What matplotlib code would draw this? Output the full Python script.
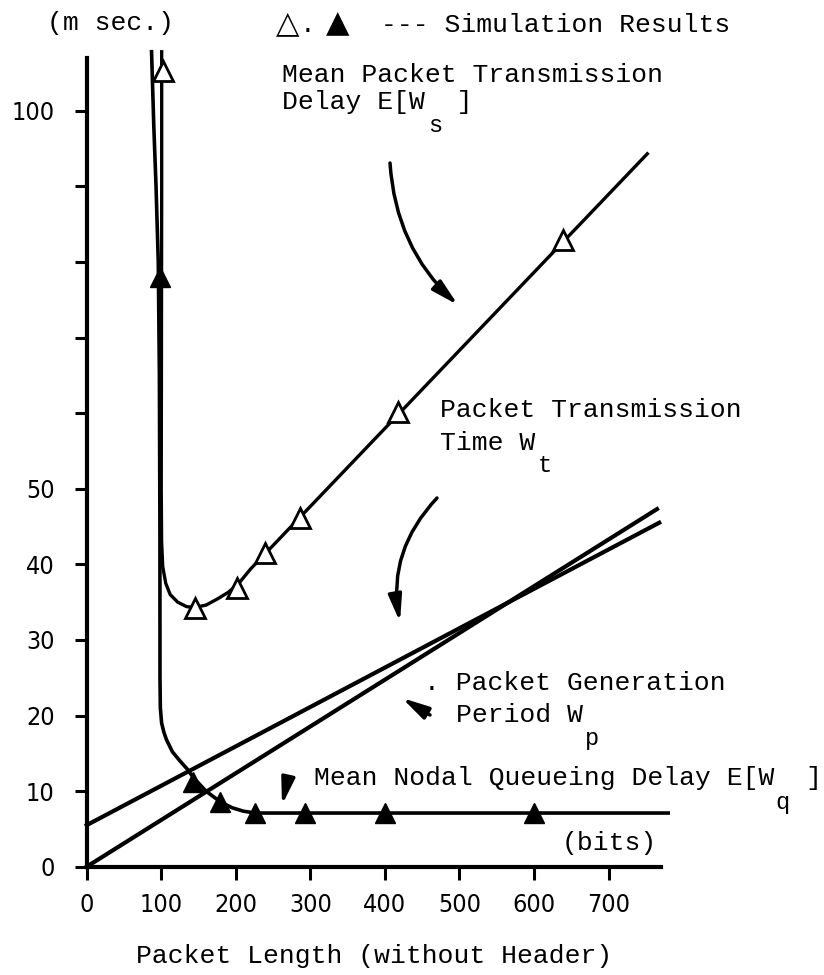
#!/usr/bin/env python3

# packet delay vs packet length, redrawn from a scanned figure

import matplotlib
matplotlib.use('Agg')
import matplotlib.pyplot as plt
from matplotlib.patches import FancyArrowPatch

W, H = 824, 975
MONO = ['Liberation Mono', 'DejaVu Sans Mono']

# simulation results (open = E[Ws], filled = E[Wq])
sim_ws_x = [102.5, 145, 201, 239, 286, 417, 639]
sim_ws_y = [105.2, 34.2, 36.9, 41.5, 46.1, 60.1, 82.9]
sim_wq_x = [98.5, 143, 179, 226, 293, 400, 600]
sim_wq_y = [78, 11.2, 8.6, 7.1, 7.1, 7.1, 7.1]

# analytic curves, points
ws_x = [100.6, 100.6, 100.3, 100.0, 100.5, 102, 106, 112, 122, 134, 145,
        160, 175, 190, 205, 220, 752]
ws_y = [107.8, 90, 70, 50, 43, 39.7, 37.5, 36.0, 35.0, 34.4, 34.3,
        34.6, 35.4, 36.3, 37.6, 39.4, 94.3]
wq_x = [87, 90, 93, 96, 97.5, 98.2, 98.3, 98.8, 100.5, 103.5, 107, 115,
        125, 135, 143, 160, 179, 195, 210, 226, 780]
wq_y = [107.8, 98, 90, 80, 65, 45, 25, 21, 19, 17.8, 16.8, 15.2,
        14.0, 12.9, 11.8, 10.0, 8.6, 7.8, 7.35, 7.1, 7.1]
wt_x = [0, 765]
wt_y = [0, 47.3]
wp_x = [0, 768]
wp_y = [5.5, 45.5]

x_ticks = [0, 100, 200, 300, 400, 500, 600, 700]
y_ticks = [0, 10, 20, 30, 40, 50, 60, 70, 80, 90, 100]
y_labels = ['0', '10', '20', '30', '40', '50', '', '', '', '', '100']


def fx(px):
    return px / W


def fy(py):
    return 1 - py / H


fig = plt.figure(figsize=(W / 100, H / 100), dpi=100)
ax = fig.add_axes([fx(86.7), fy(866.7), 574.0 / W, 808.9 / H])

ax.plot(wt_x, wt_y, 'k', lw=3.0, clip_on=False)
ax.plot(wp_x, wp_y, 'k', lw=3.0, clip_on=False)
ax.plot(ws_x, ws_y, 'k', lw=2.4, clip_on=False, solid_joinstyle='round')
ax.plot(wq_x, wq_y, 'k', lw=2.6, clip_on=False, solid_joinstyle='round')
ax.plot(sim_ws_x, sim_ws_y, '^', ms=14, mfc='white', mec='black', mew=2.0,
        clip_on=False, zorder=5)
ax.plot(sim_wq_x, sim_wq_y, '^', ms=14, mfc='black', mec='black',
        clip_on=False, zorder=5)

ax.set_xlim(0, 770)
ax.set_ylim(0, 107)
for s in ['top', 'right']:
    ax.spines[s].set_visible(False)
for s in ['left', 'bottom']:
    ax.spines[s].set_linewidth(3)
ax.set_xticks(x_ticks)
ax.set_yticks(y_ticks)
ax.set_yticklabels(y_labels)
ax.tick_params(direction='out', length=9, width=2.2, labelsize=18)
ax.tick_params(axis='y', pad=14)
ax.tick_params(axis='x', pad=10)
for t in ax.get_xticklabels() + ax.get_yticklabels():
    t.set_family('DejaVu Sans')
    t.set_fontstretch('condensed')

txt = dict(fontsize=19, family=MONO, ha='left', va='center')
sub = dict(fontsize=17, family=MONO, ha='left', va='center')
fig.text(fx(47), fy(23), '(m sec.)', **txt)
fig.text(fx(276), fy(24), '\u25b3', fontsize=22, family='DejaVu Sans',
         ha='left', va='center')
fig.text(fx(300), fy(25), '.', **txt)
fig.text(fx(326), fy(24), '\u25b2', fontsize=22, family='DejaVu Sans',
         ha='left', va='center')
fig.text(fx(381), fy(25), '--- Simulation Results', **txt)

fig.text(fx(282), fy(75), 'Mean Packet Transmission', **txt)
fig.text(fx(282), fy(102), 'Delay E[W  ]', **txt)
fig.text(fx(428), fy(125), 's', **sub)

fig.text(fx(440), fy(410), 'Packet Transmission', **txt)
fig.text(fx(440), fy(443), 'Time W', **txt)
fig.text(fx(538), fy(466), 't', **sub)

fig.text(fx(424), fy(683), '. Packet Generation', **txt)
fig.text(fx(456), fy(715), 'Period W', **txt)
fig.text(fx(585), fy(738), 'p', **sub)

fig.text(fx(314), fy(778), 'Mean Nodal Queueing Delay E[W  ]', **txt)
fig.text(fx(775), fy(802), 'q', **sub)

fig.text(fx(562), fy(843), '(bits)', **txt)
fig.text(fx(374), fy(956), 'Packet Length (without Header)',
         fontsize=19, family=MONO, ha='center', va='center')

# arrows pointing at the curves
arrows = [((390, 163), (458, 305), 0.2),
          ((437, 498), (400, 622), 0.25),
          ((430, 715), (402, 698), 0.0),
          ((288, 778), (282, 805), 0.0)]
for (x0, y0), (x1, y1), rad in arrows:
    fig.add_artist(FancyArrowPatch(
        (fx(x0), fy(y0)), (fx(x1), fy(y1)), transform=fig.transFigure,
        connectionstyle='arc3,rad=%g' % rad,
        arrowstyle='-|>,head_length=0.8,head_width=0.2',
        mutation_scale=20, lw=2.5, color='black', shrinkA=0, shrinkB=0))

plt.savefig('out.png', dpi=100)
